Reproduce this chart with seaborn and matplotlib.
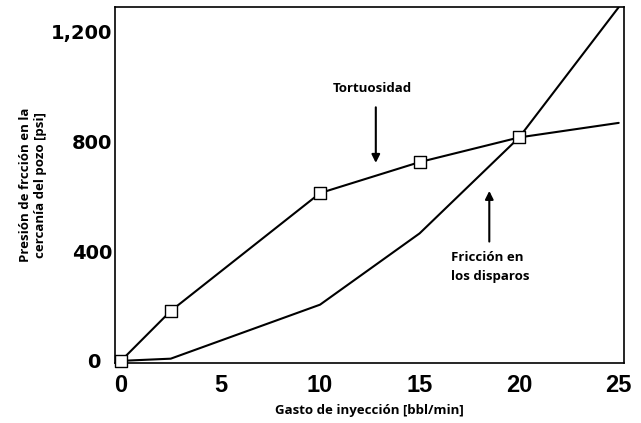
import pandas as pd
import matplotlib.pyplot as plt
import matplotlib.transforms as mtransforms
import seaborn as sns

# Datos
gasto = [0, 2.5, 10, 15, 20, 25]
tortuosidad = [0, 182, 612, 725, 815, 868]
friccion_disparos = [0, 8, 205, 465, 815, 1290]

# puntos medidos (cuadros)
gasto_med = [0, 2.5, 10, 15, 20]
presion_med = [0, 182, 612, 725, 815]

yticks = [0, 400, 800, 1200]
ytick_labels = ["0", "400", "800", "1,200"]
xticks = [0, 5, 10, 15, 20, 25]

df = pd.DataFrame({"gasto": gasto, "tort": tortuosidad, "fric": friccion_disparos})
med = pd.DataFrame({"gasto": gasto_med, "presion": presion_med})

sns.set_style("white")

fig = plt.figure(figsize=(6.41, 4.23), dpi=100)
ax = fig.add_axes([0.180, 0.143, 0.793, 0.840])

sns.lineplot(data=df, x="gasto", y="tort", color="black", linewidth=1.5, ax=ax)
sns.lineplot(data=df, x="gasto", y="fric", color="black", linewidth=1.5, ax=ax)
sns.scatterplot(data=med, x="gasto", y="presion", marker="s", s=75,
                facecolor="white", edgecolor="black", linewidth=1.0,
                zorder=5, clip_on=False, ax=ax)

ax.set_xlim(-0.28, 25.25)
ax.set_ylim(-6, 1290)
ax.set_xticks(xticks)
ax.set_xticklabels([str(t) for t in xticks])
ax.set_yticks(yticks)
ax.set_yticklabels(ytick_labels)
ax.tick_params(direction="in", length=6, width=1, colors="black")
ax.tick_params(axis="x", pad=8)
ax.tick_params(axis="y", pad=2)
for lab in ax.get_xticklabels():
    lab.set_fontfamily("Liberation Sans")
    lab.set_fontweight("bold")
    lab.set_fontsize(17)
for lab in ax.get_yticklabels():
    lab.set_fontfamily("DejaVu Sans")
    lab.set_fontweight("bold")
    lab.set_fontsize(14)
# el "0" del eje y queda a la izquierda del cuadro
lab0 = ax.get_yticklabels()[0]
lab0.set_transform(lab0.get_transform() +
                   mtransforms.ScaledTranslation(-9 / 72, 0, fig.dpi_scale_trans))

for s in ax.spines.values():
    s.set_color("black")
    s.set_linewidth(1.2)

lab_font = dict(family="Open Sans", weight="bold", size=9.5, color="black")
ax.set_xlabel("Gasto de inyección [bbl/min]", fontdict=lab_font, labelpad=5)
ax.set_ylabel("Presión de frcción en la\ncercanía del pozo [psi]",
              fontdict=lab_font, labelpad=3)

# anotaciones
ax.annotate("", xy=(12.8, 712), xytext=(12.8, 935),
            arrowprops=dict(arrowstyle="-|>", color="black", lw=1.5, mutation_scale=12))
ax.text(12.6, 970, "Tortuosidad", ha="center", va="bottom", fontsize=9.5,
        fontfamily="Open Sans", fontweight="bold", color="black")

ax.annotate("", xy=(18.5, 630), xytext=(18.5, 425),
            arrowprops=dict(arrowstyle="-|>", color="black", lw=1.5, mutation_scale=12))
ax.text(16.6, 400, "Fricción en\nlos disparos", ha="left", va="top", fontsize=9.5,
        fontfamily="Open Sans", fontweight="bold", color="black", linespacing=1.6)

fig.savefig("out.png", dpi=100)
